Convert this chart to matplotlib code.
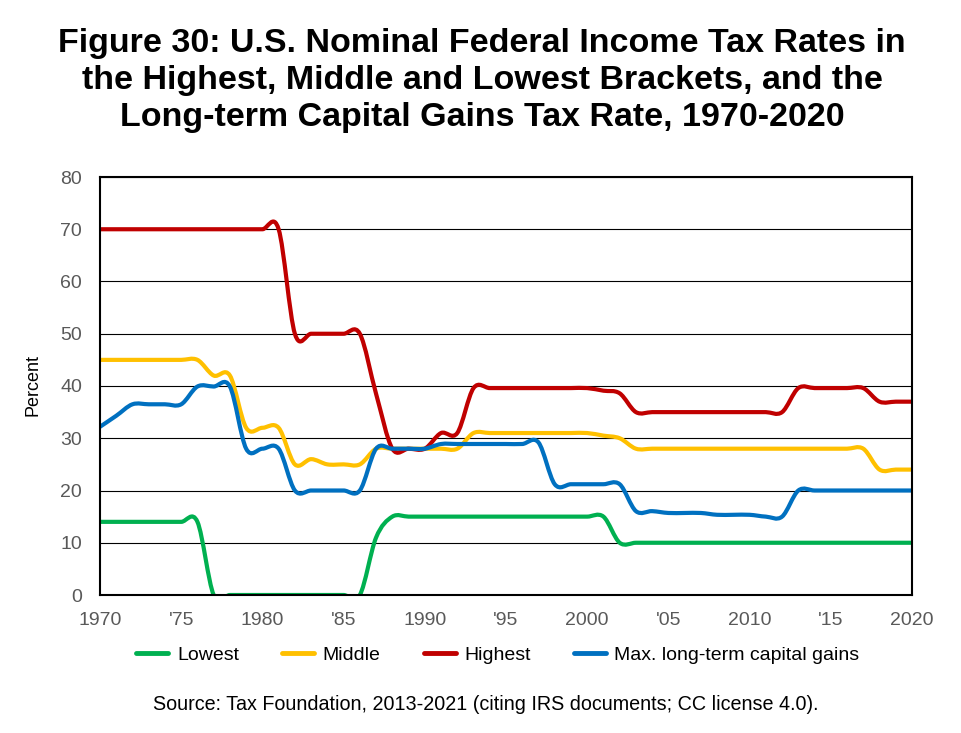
import matplotlib
matplotlib.use("Agg")
import matplotlib.pyplot as plt
from matplotlib.path import Path
from matplotlib.patches import PathPatch
from matplotlib.lines import Line2D

plt.rcParams['font.family'] = ['Liberation Sans', 'DejaVu Sans']

years = list(range(1970, 2021))

# lowest bracket
lowest = [14] * 7 + [0] * 10 + [11] + [15] * 14 + [10] * 19
# middle bracket
middle = ([45] * 7 + [42, 42] + [32, 32, 32] + [25, 26, 25, 25, 25]
          + [28] * 6 + [31] * 8 + [30.5, 30] + [28] * 15 + [24] * 3)
# highest bracket
highest = ([70] * 12 + [50] * 5 + [38.5] + [28] * 3 + [31] * 2 + [39.6] * 8
           + [39.1, 38.6] + [35] * 10 + [39.6] * 5 + [37] * 3)
# max long-term capital gains
cap_gains = ([32.2, 34.3] + [36.5] * 4 + [39.9] * 3 + [28] * 3 + [20] * 5
             + [28] * 4 + [28.9] * 6 + [29.2] + [21.2] * 5
             + [16.05, 16.05, 15.7, 15.7, 15.7, 15.35, 15.35, 15.35, 15, 15]
             + [20] * 8)

series = [
    ("Lowest", lowest, "#00B050"),
    ("Middle", middle, "#FFC000"),
    ("Highest", highest, "#C00000"),
    ("Max. long-term capital gains", cap_gains, "#0070C0"),
]

xtick_vals = [1970, 1975, 1980, 1985, 1990, 1995, 2000, 2005, 2010, 2015, 2020]
xtick_labels = ["1970", "'75", "1980", "'85", "1990", "'95", "2000", "'05", "2010", "'15", "2020"]
yticks = [0, 10, 20, 30, 40, 50, 60, 70, 80]


def smooth_path(xs, ys):
    # excel-style smoothed line: cubic bezier through every point
    n = len(xs)
    verts = [(xs[0], ys[0])]
    codes = [Path.MOVETO]
    for i in range(n - 1):
        i0 = max(i - 1, 0)
        i3 = min(i + 2, n - 1)
        c1 = (xs[i] + (xs[i + 1] - xs[i0]) / 6, ys[i] + (ys[i + 1] - ys[i0]) / 6)
        c2 = (xs[i + 1] - (xs[i3] - xs[i]) / 6, ys[i + 1] - (ys[i3] - ys[i]) / 6)
        verts += [c1, c2, (xs[i + 1], ys[i + 1])]
        codes += [Path.CURVE4] * 3
    return Path(verts, codes)


fig = plt.figure(figsize=(9.62, 7.33), dpi=100)
ax = fig.add_axes([100 / 962, 1 - 595 / 733, 812 / 962, 418 / 733])

handles = []
for name, vals, col in series:
    p = PathPatch(smooth_path(years, vals), facecolor='none', edgecolor=col,
                  lw=3, capstyle='round', joinstyle='round', zorder=3)
    ax.add_patch(p)
    handles.append(Line2D([], [], color=col, lw=3.5, solid_capstyle='round'))

ax.set_xlim(1970, 2020)
ax.set_ylim(0, 80)
ax.set_xticks(xtick_vals)
ax.set_xticklabels(xtick_labels)
ax.set_yticks(yticks)
ax.tick_params(length=0, labelsize=14, labelcolor='#595959')
ax.tick_params(axis='y', pad=13)
ax.tick_params(axis='x', pad=12)
ax.grid(axis='y', color='black', lw=0.8)
ax.set_axisbelow(True)
for s in ax.spines.values():
    s.set_linewidth(1.5)
    s.set_color('black')
    s.set_zorder(4)

fig.text(33 / 962, 1 - 385 / 733, "Percent", rotation=90, ha='center', va='center', fontsize=13)

fig.text(482 / 962, 1 - 28 / 733,
         "Figure 30: U.S. Nominal Federal Income Tax Rates in\n"
         "the Highest, Middle and Lowest Brackets, and the\n"
         "Long-term Capital Gains Tax Rate, 1970-2020",
         ha='center', va='top', fontsize=24.5, fontweight='bold', linespacing=1.26)

fig.legend(handles, [s[0] for s in series], loc='center', ncol=4, frameon=False,
           bbox_to_anchor=(498 / 962, 1 - 655 / 733), fontsize=14,
           handlelength=1.65, handletextpad=0.45, columnspacing=2.2)

fig.text(486 / 962, 1 - 704 / 733,
         "Source: Tax Foundation, 2013-2021 (citing IRS documents; CC license 4.0).",
         ha='center', va='center', fontsize=14.2)

fig.savefig("out.png", dpi=100)
